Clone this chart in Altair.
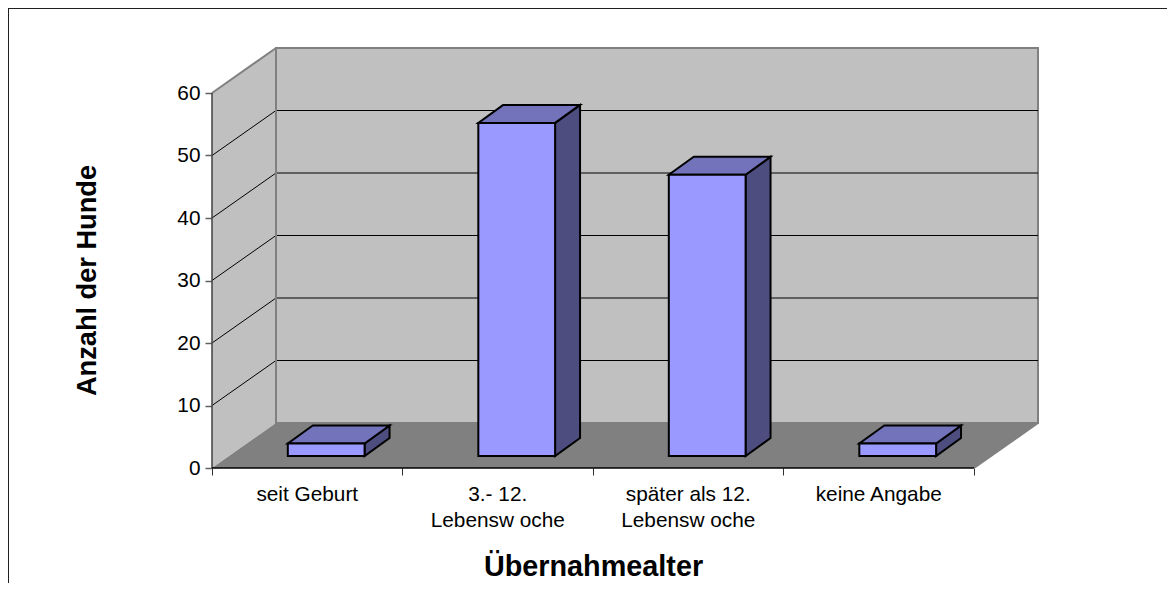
import altair as alt

categories = ["seit Geburt", "3.- 12.\nLebensw oche", "später als 12.\nLebensw oche", "keine Angabe"]
values = [2, 53.3, 45, 2]
y_ticks = [0, 10, 20, 30, 40, 50, 60]
x_ticks = [0, 1, 2, 3, 4]

# 3D projection constants, in data units
DX, DY = 0.336, 7.2          # wall depth
BX, BY = 0.131, 2.88         # bar depth
OX, OY = 0.398, 1.92         # bar offset within category and depth
BW = 0.403                   # bar width
NCAT = len(categories)
YMAX = max(y_ticks)

FONT = "Liberation Sans"
xs = alt.Scale(domain=[0, NCAT + DX], nice=False, zero=False)
ys = alt.Scale(domain=[0, YMAX + DY], nice=False, zero=False)
xaxis = alt.Axis(
    values=x_ticks, labels=False, domain=False, grid=False, tickSize=7,
    tickColor="#303030", tickWidth=1,
    title="Übernahmealter", titleFont=FONT, titleFontSize=28.8, titleFontWeight="bold",
    titleColor="#000000", titleX=381, titleY=107, titleBaseline="alphabetic", titleAlign="center")
yaxis = alt.Axis(
    values=y_ticks, domain=False, grid=False, tickSize=7, tickColor="#606060", tickWidth=1.5,
    labelFont=FONT, labelFontSize=20.8, labelColor="#000000", labelPadding=5,
    title="Anzahl der Hunde", titleFont=FONT, titleFontSize=27.2, titleFontWeight="bold",
    titleColor="#000000", titleX=-125, titleY=232, titleAngle=270, titleAlign="center",
    titleBaseline="middle")
X = lambda f="x": alt.X(f + ":Q", scale=xs, axis=xaxis)
Y = lambda f="y": alt.Y(f + ":Q", scale=ys, axis=yaxis)
X2 = alt.X2("x2:Q")
Y2 = alt.Y2("y2:Q")
D = lambda rows: alt.Data(values=rows)

# walls and floor
left_wall = alt.Chart(D([
    {"x": 0, "y": 0, "y2": YMAX},
    {"x": DX, "y": DY, "y2": YMAX + DY},
])).mark_area(color="#c0c0c0", interpolate="linear").encode(x=X(), y=Y(), y2=Y2)

back_wall = alt.Chart(D([
    {"x": DX, "x2": NCAT + DX, "y": DY, "y2": YMAX + DY}
])).mark_rect(fill="#c0c0c0", stroke="#808080", strokeWidth=2).encode(x=X(), x2=X2, y=Y(), y2=Y2)

floor = alt.Chart(D([
    {"y": 0, "x": 0, "x2": NCAT},
    {"y": DY, "x": DX, "x2": NCAT + DX},
])).mark_area(color="#808080", orient="horizontal", interpolate="linear").encode(y=Y(), x=X(), x2=X2)

# gridlines
grid_rows = [v for v in y_ticks if 0 < v < YMAX]
back_grid = alt.Chart(D([
    {"x": DX, "x2": NCAT + DX, "y": v + DY} for v in grid_rows
])).mark_rule(color="#000000", strokeWidth=1).encode(x=X(), x2=X2, y=Y())
side_grid = alt.Chart(D([
    {"x": 0, "x2": DX, "y": v, "y2": v + DY} for v in grid_rows
])).mark_rule(color="#000000", strokeWidth=1).encode(x=X(), x2=X2, y=Y(), y2=Y2)
edges = alt.Chart(D([
    {"x": 0, "x2": DX, "y": YMAX, "y2": YMAX + DY},
    {"x": DX, "x2": DX, "y": DY, "y2": YMAX + DY},
    {"x": NCAT, "x2": NCAT + DX, "y": 0, "y2": DY},
])).mark_rule(color="#808080", strokeWidth=2).encode(x=X(), x2=X2, y=Y(), y2=Y2)

# bars
front, top, side = [], [], []
for i, v in enumerate(values):
    l = i + OX
    r = l + BW
    front.append({"x": l, "x2": r, "y": OY, "y2": OY + v})
    top += [
        {"b": i, "y": OY + v, "x": l, "x2": r},
        {"b": i, "y": OY + v + BY, "x": l + BX, "x2": r + BX},
    ]
    side += [
        {"b": i, "x": r, "y": OY + v, "y2": OY},
        {"b": i, "x": r + BX, "y": OY + v + BY, "y2": OY + BY},
    ]
stroke = dict(stroke="#000000", strokeWidth=2, interpolate="linear")
side_faces = alt.Chart(D(side)).mark_area(fill="#4d4d80", **stroke).encode(
    x=X(), y=Y(), y2=Y2, detail="b:N")
top_faces = alt.Chart(D(top)).mark_area(fill="#7373bb", orient="horizontal", **stroke).encode(
    y=Y(), x=X(), x2=X2, detail="b:N")
front_faces = alt.Chart(D(front)).mark_rect(fill="#9999ff", stroke="#000000", strokeWidth=2).encode(
    x=X(), x2=X2, y=Y(), y2=Y2)

# axis lines
y_line = alt.Chart(D([{"x": 0, "y": 0, "y2": YMAX}])).mark_rule(color="#404040", strokeWidth=1.5).encode(
    x=X(), y=Y(), y2=Y2)
x_line = alt.Chart(D([{"x": 0, "x2": NCAT, "y": 0}])).mark_rule(color="#000000", strokeWidth=1.5).encode(
    x=X(), x2=X2, y=Y())

labels = alt.Chart(D([{"x": i + 0.5, "t": c} for i, c in enumerate(categories)])).mark_text(
    font=FONT, fontSize=20.8, color="#000000", lineBreak="\n", lineHeight=26, baseline="middle", align="center"
).encode(x=X(), y=alt.value(447), text="t:N")

# outer frame
frame_top = alt.Chart(D([{"a": 0}])).mark_rule(color="#202020", strokeWidth=2).encode(
    x=alt.value(-204), x2=alt.value(955), y=alt.value(-40))
frame_left = alt.Chart(D([{"a": 0}])).mark_rule(color="#202020", strokeWidth=2).encode(
    x=alt.value(-204), y=alt.value(-40), y2=alt.value(535))

chart = alt.layer(
    left_wall, back_wall, floor, back_grid, side_grid, edges,
    side_faces, top_faces, front_faces, y_line, x_line, labels, frame_top, frame_left,
).properties(
    width=826, height=420,
    padding={"left": 204, "top": 40, "right": 129, "bottom": 115},
    autosize=alt.AutoSizeParams(type="none"),
    background="#ffffff",
).configure_view(stroke=None)

chart.save("out.html", embed_options={"renderer": "svg", "actions": False})
